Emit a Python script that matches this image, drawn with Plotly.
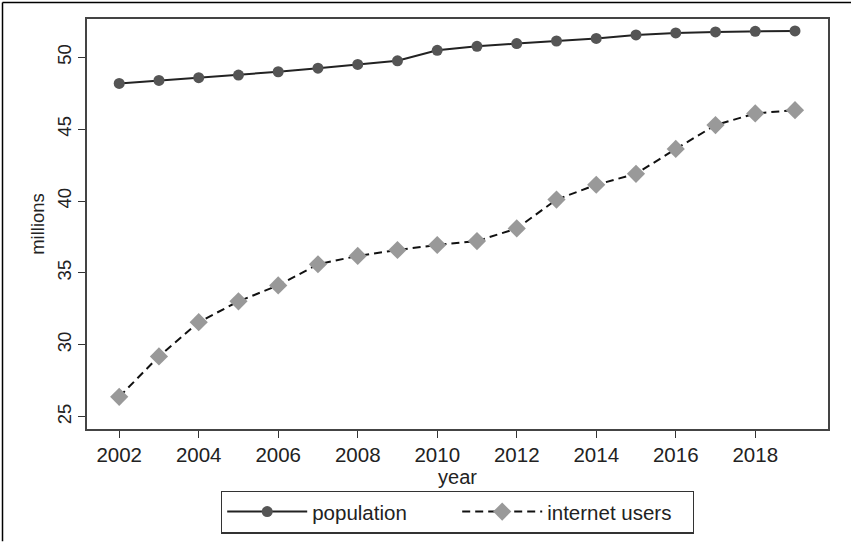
import plotly.graph_objects as go

years = list(range(2002, 2020))
population = [48.18, 48.39, 48.58, 48.76, 48.99, 49.24, 49.50, 49.75, 50.48,
              50.76, 50.95, 51.13, 51.31, 51.55, 51.69, 51.76, 51.80, 51.83]
internet_users = [26.38, 29.19, 31.57, 33.02, 34.13, 35.60, 36.18, 36.59, 36.94,
                  37.21, 38.09, 40.10, 41.13, 41.89, 43.62, 45.28, 46.09, 46.32]
x_ticks = list(range(2002, 2020, 2))
y_ticks = [25, 30, 35, 40, 45, 50]

W, H = 851, 545
ml, mr, mt, mb = 87, 23, 19, 113
pw = W - ml - mr
ph = H - mt - mb

font = "Liberation Sans, Arial, Helvetica, sans-serif"

fig = go.Figure()
fig.add_trace(go.Scatter(
    x=years, y=population, name="population", mode="lines+markers",
    line=dict(color="#222222", width=2),
    marker=dict(symbol="circle", size=11, color="#555555"),
))
fig.add_trace(go.Scatter(
    x=years, y=internet_users, name="internet users", mode="lines+markers",
    line=dict(color="#111111", width=2, dash="8px,5px"),
    marker=dict(symbol="diamond", size=14, color="#999999"),
))

# outer frame (top and left edges only)
px2x = lambda p: (p - ml) / pw
py2y = lambda p: 1 - (p - mt) / ph
fig.add_shape(type="line", xref="paper", yref="paper",
              x0=px2x(2.5), x1=px2x(W), y0=py2y(2.5), y1=py2y(2.5),
              line=dict(color="black", width=1.5))
fig.add_shape(type="line", xref="paper", yref="paper",
              x0=px2x(2.5), x1=px2x(2.5), y0=py2y(2.5), y1=py2y(H),
              line=dict(color="black", width=1.5))

fig.update_layout(
    width=W, height=H,
    margin=dict(l=ml, r=mr, t=mt, b=mb),
    paper_bgcolor="white", plot_bgcolor="white",
    font=dict(family=font, size=20, color="#222222"),
    showlegend=True,
    legend=dict(
        orientation="h", x=0.5, xanchor="center", y=py2y(494), yanchor="top",
        bordercolor="#333333", borderwidth=1.2, bgcolor="white",
        font=dict(size=20.5), itemwidth=80, entrywidth=140,
        tracegroupgap=0,
    ),
    xaxis=dict(
        range=[2001.19, 2019.83], tickvals=x_ticks,
        ticks="outside", ticklen=7, tickwidth=1.2, tickcolor="#333333",
        showline=True, linecolor="#444444", linewidth=1.5, mirror=True,
        showgrid=False, zeroline=False,
        title=dict(text="year", font=dict(size=20), standoff=2),
        tickfont=dict(size=20.5),
    ),
    yaxis=dict(
        range=[24.14, 52.66], tickvals=y_ticks,
        ticks="outside", ticklen=7, tickwidth=1.2, tickcolor="#333333",
        showline=True, linecolor="#444444", linewidth=1.5, mirror=True,
        showgrid=False, zeroline=False, tickangle=-90,
        title=dict(text="millions", font=dict(size=18.5), standoff=4),
        tickfont=dict(size=18.5),
    ),
)

fig.write_html("out.html")
